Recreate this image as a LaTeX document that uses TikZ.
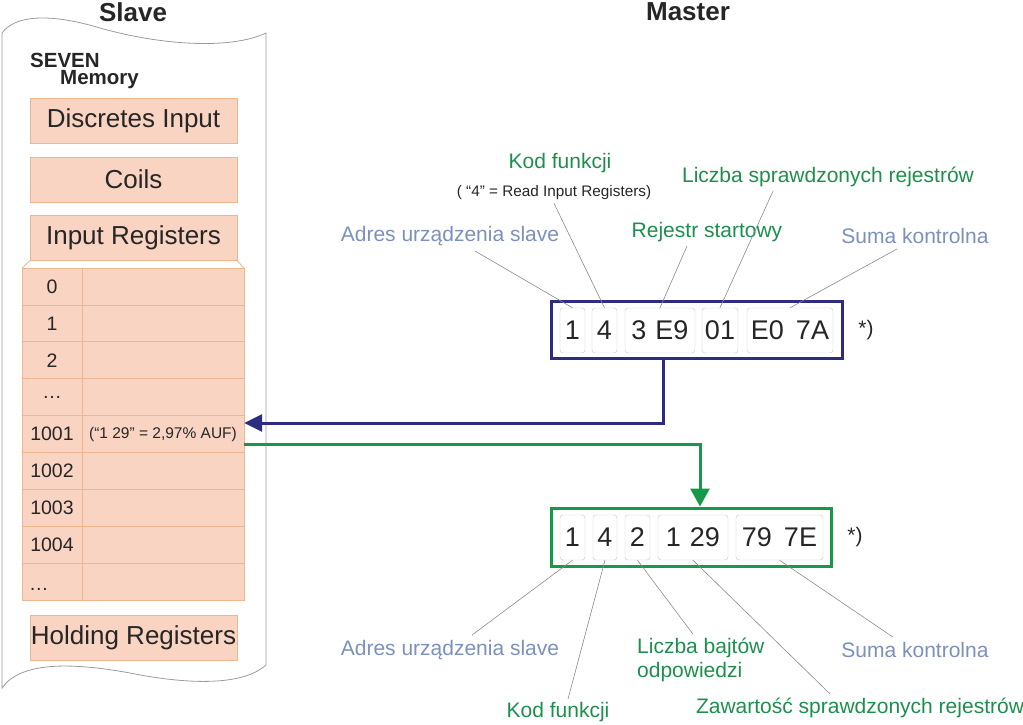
\documentclass[tikz,border=0pt]{standalone}
\usepackage{fontspec}
\setmainfont{Liberation Sans}
\usetikzlibrary{arrows.meta}

\definecolor{salmon}{HTML}{F9D4C2}
\definecolor{salmonline}{HTML}{EDB68C}
\definecolor{reqblue}{HTML}{2E2C7E}
\definecolor{resgreen}{HTML}{17994A}
\definecolor{txtgreen}{HTML}{1D8F4C}
\definecolor{txtblue}{HTML}{7B91BC}
\definecolor{txtdark}{HTML}{262626}
\definecolor{cellline}{HTML}{B8CDC6}
\definecolor{leadgray}{HTML}{8A8A8A}
\definecolor{papergray}{HTML}{9C9C9C}

\begin{document}
\begin{tikzpicture}[x=1pt,y=-1pt,
    area/.style={draw=salmonline, fill=salmon, text=txtdark, inner sep=0pt,
        minimum width=207pt, minimum height=45pt, font=\fontsize{26}{28}\selectfont},
    rowlbl/.style={text=txtdark, inner sep=0pt, font=\fontsize{19.5}{21}\selectfont},
    frame/.style={line width=3pt, inner sep=0pt},
    cell/.style={draw=cellline, fill=white, rounded corners=3pt, text=txtdark,
        inner sep=0pt, minimum height=45pt, font=\fontsize{27}{28}\selectfont},
    lblgreen/.style={text=txtgreen, inner sep=0pt, font=\fontsize{21}{24}\selectfont},
    lblblue/.style={text=txtblue, inner sep=0pt, font=\fontsize{21}{24}\selectfont},
    leader/.style={draw=leadgray, line width=0.6pt},
    head/.style={font=\bfseries\fontsize{26}{28}\selectfont, text=txtdark, inner sep=0pt}]

    \useasboundingbox (0,0) rectangle (1023,724);

    % titles
    \node[head] (slave) at (133,12) {Slave};
    \node[head] (master) at (688,12) {Master};

    % torn paper of the slave
    \draw[papergray, line width=0.8pt, fill=white]
        (2,33) .. controls (15,15) and (50,13) .. (100,28)
        .. controls (160,45) and (230,50) .. (266,33) -- (266,665)
        .. controls (240,688) and (180,683) .. (130,673)
        .. controls (70,662) and (20,662) .. (2,688) -- cycle;

    \node[font=\bfseries\fontsize{20.5}{22}\selectfont, text=txtdark, inner sep=0pt, anchor=west] (seven) at (30,60) {SEVEN};
    \node[font=\bfseries\fontsize{20.5}{22}\selectfont, text=txtdark, inner sep=0pt, anchor=west] (memory) at (60,80) {Memory};

    % memory areas
    \node[area] (discr) at (133.5,120.5) {Discretes Input};
    \node[area] (coils) at (133.5,179.5) {Coils};
    \node[area] (inreg) at (133.5,238) {Input Registers};
    \node[area] (hold) at (133.5,637.5) {Holding Registers};

    % table of input registers
    \pgfmathsetmacro{\rowh}{36.9}
    \draw[salmonline, line width=0.8pt] (inreg.south west) -- (22,268);
    \draw[salmonline, line width=0.8pt] (inreg.south east) -- (244,268);
    \draw[salmonline, line width=0.8pt, fill=salmon] (22,268) rectangle (244,600);
    \foreach \i in {1,...,8}
        \draw[salmonline, line width=0.8pt] (22,{268+\i*\rowh}) -- (244,{268+\i*\rowh});
    \draw[salmonline, line width=0.8pt] (82,268) -- (82,600);

    \foreach \lbl [count=\i from 0] in {0,1,2,\ldots,1001,1002,1003,1004}
        \node[rowlbl] (row\i) at (52,{268+(\i+0.5)*\rowh}) {\lbl};
    \node[rowlbl, anchor=west] (row8) at (29,{268+8.7*\rowh}) {\ldots};

    \node[text=txtdark, inner sep=0pt, minimum width=162pt, minimum height=\rowh pt,
        font=\fontsize{15.5}{17}\selectfont] (val) at (163,434) {(“1 29” = 2,97\% AUF)};

    % request of the master
    \node[frame, draw=reqblue, minimum width=291pt, minimum height=57pt] (req) at (696.5,329.5) {};
    \node[cell, minimum width=25pt] (q1) at (572.5,330.5) {1};
    \node[cell, minimum width=25pt] (q2) at (604.5,330.5) {4};
    \node[cell, minimum width=70pt] (q3) at (660,330.5) {3\,\,E9};
    \node[cell, minimum width=36pt] (q4) at (720,330.5) {01};
    \node[cell, minimum width=86pt] (q5) at (790,330.5) {E0\, 7A};
    \node[text=txtdark, inner sep=0pt, font=\fontsize{21}{24}\selectfont] (reqnote) at (866,330) {*)};

    % response of the slave
    \node[frame, draw=resgreen, minimum width=280pt, minimum height=58pt] (res) at (691,537) {};
    \node[cell, minimum width=25pt] (r1) at (572.5,537.5) {1};
    \node[cell, minimum width=24pt] (r2) at (605,537.5) {4};
    \node[cell, minimum width=25pt] (r3) at (637.5,537.5) {2};
    \node[cell, minimum width=70pt] (r4) at (693,537.5) {1\,\,29};
    \node[cell, minimum width=87pt] (r5) at (779.5,537.5) {79\, 7E};
    \node[text=txtdark, inner sep=0pt, font=\fontsize{21}{24}\selectfont] (resnote) at (855,537) {*)};

    % arrows
    \draw[reqblue, line width=3pt, -{Triangle[length=18pt,width=17pt]}]
        ([xshift=-33.5pt]req.south) |- ([yshift=11pt]val.east);
    \draw[resgreen, line width=3pt, -{Triangle[length=18pt,width=19pt]}]
        ([yshift=-10pt]val.east) -| ([xshift=9pt]res.north);

    % labels of the request
    \node[lblgreen] (kodT) at (560,163) {Kod funkcji};
    \node[text=txtdark, inner sep=0pt, font=\fontsize{15.3}{17}\selectfont] (kodSub) at (554,193) {( “4” = Read Input Registers)};
    \node[lblgreen] (licT) at (828,177) {Liczba sprawdzonych rejestrów};
    \node[lblblue] (adrT) at (450,236) {Adres urządzenia slave};
    \node[lblgreen] (rejT) at (707,232) {Rejestr startowy};
    \node[lblblue] (sumT) at (915,236) {Suma kontrolna};

    \draw[leader] ([xshift=25pt,yshift=-5pt]adrT.south) -- (q1.north);
    \draw[leader] ([yshift=-3pt]kodSub.south) -- (q2.north);
    \draw[leader] ([xshift=-20pt,yshift=-4pt]rejT.south) -- (q3.north);
    \draw[leader] ([xshift=-55pt,yshift=-4pt]licT.south) -- (q4.north);
    \draw[leader] ([xshift=-18pt,yshift=-5pt]sumT.south) -- (q5.north);

    % labels of the response
    \node[lblblue] (adrB) at (450,650) {Adres urządzenia slave};
    \node[lblgreen] (kodB) at (558,712) {Kod funkcji};
    \node[lblgreen, align=left, anchor=west] (bajB) at (637,660) {Liczba bajtów\\odpowiedzi};
    \node[lblblue] (sumB) at (915,650) {Suma kontrolna};
    \node[lblgreen] (zawB) at (860,708) {Zawartość sprawdzonych rejestrów};

    \draw[leader] ([xshift=22pt,yshift=5pt]adrB.north) -- (r1.south);
    \draw[leader] ([xshift=10pt,yshift=3pt]kodB.north) -- (r2.south);
    \draw[leader] ([xshift=-8pt,yshift=4pt]bajB.north) -- (r3.south);
    \draw[leader] ([xshift=-30pt,yshift=4pt]zawB.north) -- (r4.south);
    \draw[leader] ([xshift=-22pt,yshift=5pt]sumB.north) -- (r5.south);
\end{tikzpicture}
\end{document}
